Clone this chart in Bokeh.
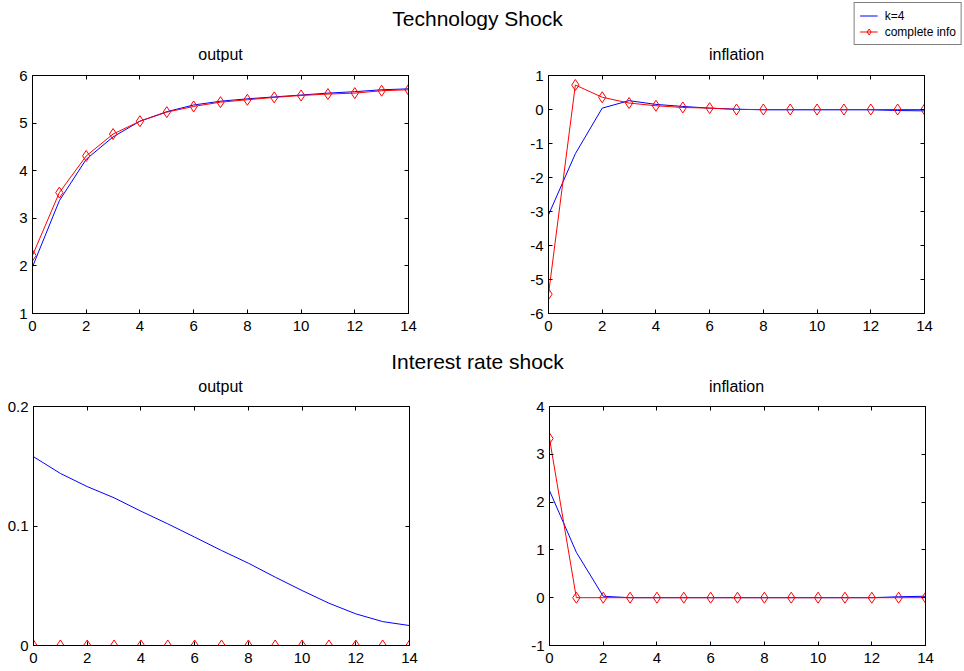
from bokeh.plotting import figure
from bokeh.models import Range1d, FixedTicker, LinearAxis, Label, Legend, LegendItem
from bokeh.layouts import column, row
from bokeh.embed import file_html
from bokeh.resources import INLINE

FONT = "Liberation Sans"

# ---------------- data ----------------
periods = [0, 1, 2, 3, 4, 5, 6, 7, 8, 9, 10, 11, 12, 13, 14]

tech_output_k4 = [1.98, 3.37, 4.24, 4.71, 5.04, 5.24, 5.38, 5.46, 5.51, 5.55, 5.59, 5.63, 5.66, 5.70, 5.72]
tech_output_full = [2.22, 3.54, 4.31, 4.77, 5.04, 5.23, 5.35, 5.44, 5.49, 5.54, 5.58, 5.61, 5.63, 5.68, 5.70]

tech_infl_k4 = [-3.10, -1.30, 0.04, 0.26, 0.15, 0.09, 0.04, 0.01, -0.01, -0.01, -0.01, -0.01, -0.01, -0.03, -0.04]
tech_infl_full = [-5.43, 0.72, 0.36, 0.19, 0.11, 0.06, 0.04, 0.00, 0.00, 0.00, 0.00, 0.00, 0.00, 0.00, 0.00]

rate_output_k4 = [0.158, 0.144, 0.133, 0.1236, 0.1124, 0.1018, 0.0907, 0.0795, 0.0689, 0.0572, 0.046, 0.0354, 0.0265, 0.020, 0.0167]
rate_output_full = [0.0, 0.0, 0.0, 0.0, 0.0, 0.0, 0.0, 0.0, 0.0, 0.0, 0.0, 0.0, 0.0, 0.0, 0.0]

rate_infl_k4 = [2.24, 0.95, 0.03, 0.0, 0.0, 0.0, 0.0, 0.0, 0.0, 0.0, 0.0, 0.0, 0.0, 0.02, 0.03]
rate_infl_full = [3.33, 0.0, 0.0, 0.0, 0.0, 0.0, 0.0, 0.0, 0.0, 0.0, 0.0, 0.0, 0.0, 0.0, 0.0]

x_ticks = [0, 2, 4, 6, 8, 10, 12, 14]
x_tick_labels = ["0", "2", "4", "6", "8", "10", "12", "14"]

tech_output_ticks = [1, 2, 3, 4, 5, 6]
tech_output_labels = ["1", "2", "3", "4", "5", "6"]
tech_infl_ticks = [-6, -5, -4, -3, -2, -1, 0, 1]
tech_infl_labels = ["-6", "-5", "-4", "-3", "-2", "-1", "0", "1"]
rate_output_ticks = [0, 0.1, 0.2]
rate_output_labels = ["0", "0.1", "0.2"]
rate_infl_ticks = [-1, 0, 1, 2, 3, 4]
rate_infl_labels = ["-1", "0", "1", "2", "3", "4"]

series_names = ["k=4", "complete info"]
super_titles = ["Technology Shock", "Interest rate shock"]
panel_titles = ["output", "inflation"]


def style_axis(ax, ticks, labels, show_labels=True):
    ax.ticker = FixedTicker(ticks=ticks)
    ax.major_label_overrides = {t: l for t, l in zip(ticks, labels)}
    ax.minor_tick_line_color = None
    ax.major_tick_in = 4
    ax.major_tick_out = 0
    ax.major_tick_line_color = "black"
    ax.axis_line_color = "black"
    ax.major_label_text_font = FONT
    if show_labels:
        ax.major_label_text_font_size = "15px"
        ax.major_label_text_color = "black"
    else:
        ax.major_label_text_font_size = "1px"
        ax.major_label_text_color = None
        ax.major_label_standoff = 0


def make_panel(k4, full, yr, yticks, ylabels, width, height, ml, mr, mt, mb):
    p = figure(width=width, height=height,
               x_range=Range1d(0, 14), y_range=Range1d(*yr),
               output_backend="svg", toolbar_location=None,
               min_border_left=ml, min_border_right=mr,
               min_border_top=mt, min_border_bottom=mb)
    p.xgrid.visible = False
    p.ygrid.visible = False
    p.outline_line_color = "black"
    p.outline_line_alpha = 1
    p.background_fill_color = "white"
    p.border_fill_color = "white"

    style_axis(p.xaxis[0], x_ticks, x_tick_labels)
    p.xaxis[0].major_label_standoff = 7
    style_axis(p.yaxis[0], yticks, ylabels)
    p.yaxis[0].major_label_standoff = 5

    top = LinearAxis()
    style_axis(top, x_ticks, x_tick_labels, show_labels=False)
    p.add_layout(top, "above")
    right = LinearAxis()
    style_axis(right, yticks, ylabels, show_labels=False)
    p.add_layout(right, "right")

    p.line(periods, k4, line_color="blue", line_width=1)
    p.line(periods, full, line_color="red", line_width=1)
    p.scatter(periods, full, marker="diamond", size=11, line_color="red",
              fill_color=None, line_width=1)
    return p


def header(height, super_title, sup_y, sub_y):
    h = figure(width=964, height=height, x_range=Range1d(0, 964), y_range=Range1d(0, height),
               x_axis_type=None, y_axis_type=None, output_backend="svg",
               toolbar_location=None, min_border=0)
    h.outline_line_color = None
    h.border_fill_color = "white"
    h.background_fill_color = "white"
    h.add_layout(Label(x=477, y=sup_y, text=super_title, text_align="center",
                       text_baseline="middle", text_font=FONT, text_font_size="21px",
                       text_color="black"))
    for cx, t in zip([220, 736], panel_titles):
        h.add_layout(Label(x=cx, y=sub_y, text=t, text_align="center",
                           text_baseline="middle", text_font=FONT,
                           text_font_size="16px", text_color="black"))
    return h


# ---------------- header with super-title, sub-titles and legend ----------------
hdr = header(62, super_titles[0], 44, 8)
# legend renderers: the series on an off-screen range, so only their legend samples show
hdr.extra_y_ranges = {"legend_only": Range1d(1000, 1001)}
lr1 = hdr.line(periods, tech_infl_k4, line_color="blue", line_width=1,
               y_range_name="legend_only")
lr2 = hdr.line(periods, tech_infl_full, line_color="red", line_width=1,
               y_range_name="legend_only")
lr3 = hdr.scatter(periods, tech_infl_full, marker="diamond", size=11, line_color="red",
                  fill_color=None, y_range_name="legend_only")
legend = Legend(items=[LegendItem(label=series_names[0], renderers=[lr1]),
                       LegendItem(label=series_names[1], renderers=[lr2, lr3])],
                location="top_right", margin=2, padding=5, spacing=1,
                glyph_width=18, glyph_height=15, label_standoff=7,
                label_text_font=FONT, label_text_font_size="12px",
                label_text_color="black",
                border_line_color="black", border_line_width=1,
                background_fill_color="white", background_fill_alpha=1)
hdr.add_layout(legend)

mid = header(51, super_titles[1], 35, 10)

tl = make_panel(tech_output_k4, tech_output_full, (1, 6),
                tech_output_ticks, tech_output_labels, 482, 283, 32, 74, 13, 32)
tr = make_panel(tech_infl_k4, tech_infl_full, (-6, 1),
                tech_infl_ticks, tech_infl_labels, 482, 283, 66, 40, 13, 32)
bl = make_panel(rate_output_k4, rate_output_full, (0, 0.2),
                rate_output_ticks, rate_output_labels, 482, 275, 33, 73, 10, 26)
br = make_panel(rate_infl_k4, rate_infl_full, (-1, 4),
                rate_infl_ticks, rate_infl_labels, 482, 275, 67, 39, 10, 26)

layout = column(hdr, row(tl, tr, spacing=0), mid, row(bl, br, spacing=0), spacing=0)

with open("out.html", "w") as f:
    f.write(file_html(layout, INLINE))
